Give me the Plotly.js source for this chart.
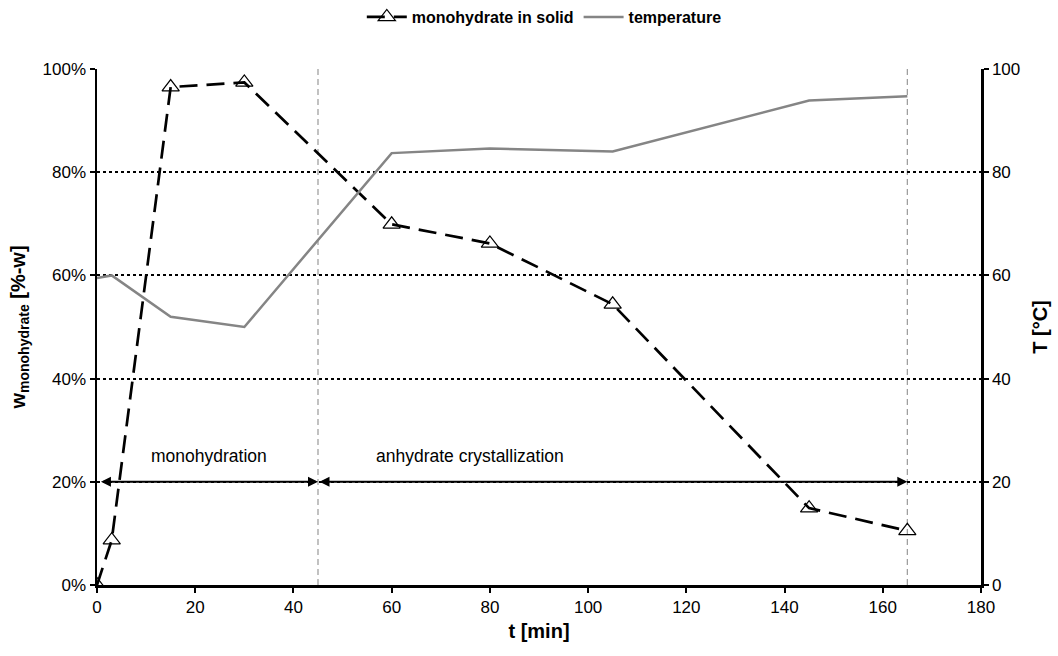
<!DOCTYPE html>
<html>
<head>
<meta charset="utf-8">
<script src="https://cdn.plot.ly/plotly-3.0.1.min.js"></script>
<style>html,body{margin:0;padding:0;background:#fff;}#chart{width:1058px;height:656px;}</style>
</head>
<body>
<div id="chart"></div>
<script>
// Data
const timeMin = [0, 3, 15, 30, 60, 80, 105, 145, 165];
const monohydratePct = [0, 8.7, 96.5, 97.4, 69.9, 66.2, 54.4, 14.9, 10.5];
const temperatureC = [59.5, 60, 52, 50, 83.7, 84.6, 84, 93.9, 94.7];
const phaseBounds = [0.5, 45, 165];
const phaseLabels = ["monohydration", "anhydrate crystallization"];
const phaseLabelX = [22.8, 76];
const arrowLevel = 20;
const labelLevel = 25;
const xTicks = [0, 20, 40, 60, 80, 100, 120, 140, 160, 180];
const yTicks = [0, 20, 40, 60, 80, 100];
const yTickLabels = ["0%", "20%", "40%", "60%", "80%", "100%"];
const y2TickLabels = ["0", "20", "40", "60", "80", "100"];

const font = "Liberation Sans, Arial, sans-serif";
const tickFont = {family: font, size: 17, color: "#000"};
const titleFont = {family: font, size: 20, color: "#000", weight: "bold"};

const traces = [
  {
    x: timeMin, y: monohydratePct, name: "monohydrate in solid",
    type: "scatter", mode: "lines+markers",
    line: {color: "#000", width: 2.7, dash: "18px,9px"},
    marker: {symbol: "triangle-up-open", size: 15, color: "#000", line: {width: 1.2, color: "#000"}},
    yaxis: "y"
  },
  {
    x: timeMin, y: temperatureC, name: "temperature",
    type: "scatter", mode: "lines",
    line: {color: "#858585", width: 2.5},
    yaxis: "y2"
  }
];

const shapes = [phaseBounds[1], phaseBounds[2]].map(v => ({
  type: "line", xref: "x", yref: "y", x0: v, x1: v, y0: 0, y1: 100,
  line: {color: "#999", width: 1.2, dash: "6px,4px"}, layer: "below"
}));

const annotations = [];
for (let i = 0; i < 2; i++) {
  annotations.push({
    x: phaseBounds[i + 1], y: arrowLevel, ax: phaseBounds[i], ay: arrowLevel,
    xref: "x", yref: "y", axref: "x", ayref: "y",
    text: "", showarrow: true, arrowhead: 2, arrowside: "end+start",
    arrowsize: 1, arrowwidth: 2, arrowcolor: "#000"
  });
  annotations.push({
    x: phaseLabelX[i], y: labelLevel, xref: "x", yref: "y",
    text: phaseLabels[i], showarrow: false,
    font: {family: font, size: 17.5, color: "#000"}
  });
}

const layout = {
  width: 1058, height: 656,
  margin: {l: 97, r: 77, t: 69, b: 71},
  paper_bgcolor: "#fff", plot_bgcolor: "#fff",
  font: {family: font, size: 14, color: "#000"},
  showlegend: true,
  legend: {
    orientation: "h", x: 0.506, xanchor: "center", y: 1.0, yanchor: "top",
    yref: "container",
    font: {family: font, size: 16, color: "#000", weight: "bold"},
    itemwidth: 40, tracegroupgap: 0, bgcolor: "rgba(0,0,0,0)"
  },
  xaxis: {
    range: [0, 180], tickmode: "array", tickvals: xTicks,
    showgrid: false, zeroline: false,
    showline: true, linecolor: "#000", linewidth: 2.5,
    ticks: "outside", ticklen: 5, tickwidth: 2, tickcolor: "#000",
    tickfont: tickFont, automargin: false,
    title: {text: "t [min]", font: titleFont, standoff: 8}
  },
  yaxis: {
    range: [0, 100], tickmode: "array", tickvals: yTicks, ticktext: yTickLabels,
    showgrid: true, gridcolor: "#000", gridwidth: 2, griddash: "3px,3px",
    zeroline: false, showline: true, linecolor: "#000", linewidth: 2.5,
    ticks: "outside", ticklen: 5, tickwidth: 2, tickcolor: "#000",
    tickfont: tickFont, automargin: false,
    title: {text: "w<sub>monohydrate</sub> [%-w]", font: titleFont, standoff: 12}
  },
  yaxis2: {
    range: [0, 100], tickmode: "array", tickvals: yTicks, ticktext: y2TickLabels,
    overlaying: "y", side: "right", showgrid: false, zeroline: false,
    showline: true, linecolor: "#000", linewidth: 2.5,
    ticks: "outside", ticklen: 5, tickwidth: 2, tickcolor: "#000",
    tickfont: tickFont, automargin: false,
    title: {text: "T [°C]", font: titleFont, standoff: 14}
  },
  shapes: shapes,
  annotations: annotations
};

Plotly.newPlot("chart", traces, layout, {displayModeBar: false, staticPlot: true});
</script>
</body>
</html>
